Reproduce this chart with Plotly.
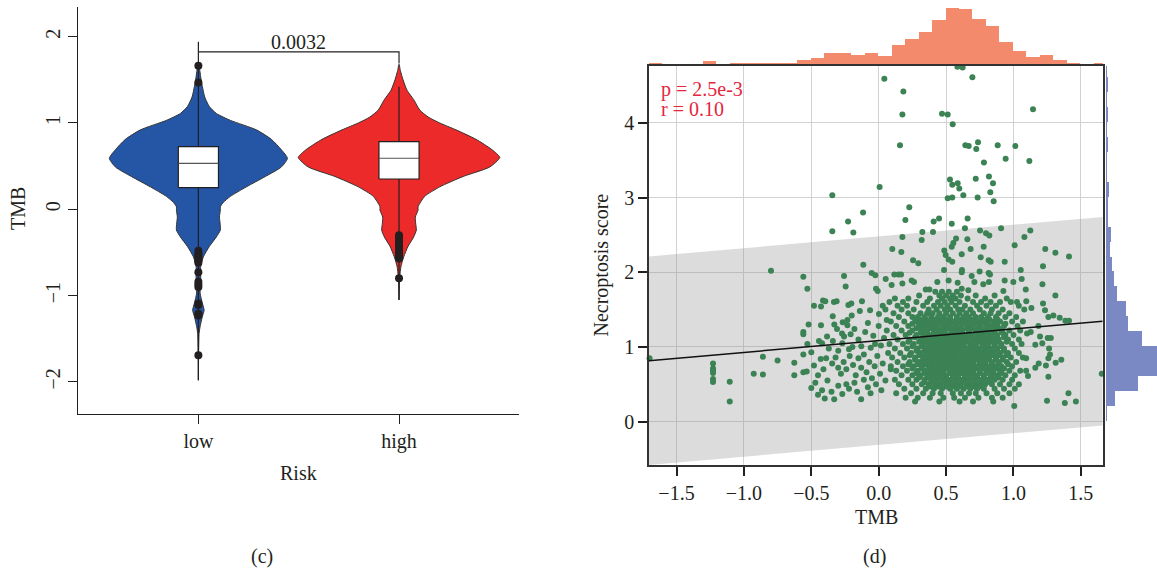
import plotly.graph_objects as go

W, H = 1157, 575
FONT = "Liberation Serif"
INK = "#231F20"

# ------------------------------------------------------------------ panel (c) data
risk_groups = ["low", "high"]
risk_pos = [1, 2]
violin_colors = ["#2456A5", "#EC2A2A"]

# violin outline: TMB level and relative density (half width, 1 = widest)
low_profile_y = [1.69, 1.60, 1.50, 1.42, 1.30, 1.19, 1.11, 1.03, 0.92, 0.81, 0.69, 0.59, 0.49, 0.38,
                 0.26, 0.15, 0.08, 0.03, -0.01, -0.09, -0.16, -0.24, -0.32, -0.43, -0.55, -0.66,
                 -0.82, -0.97, -1.09, -1.17, -1.24, -1.36, -1.44, -1.63, -1.98]
low_profile_w = [0.0, 0.015, 0.027, 0.040, 0.063, 0.109, 0.179, 0.318, 0.576, 0.725, 0.824, 0.884,
                 0.824, 0.665, 0.477, 0.318, 0.248, 0.218, 0.218, 0.209, 0.215, 0.218, 0.179, 0.109,
                 0.050, 0.023, 0.023, 0.017, 0.040, 0.057, 0.040, 0.017, 0.007, 0.003, 0.0]
high_profile_y = [1.68, 1.60, 1.50, 1.38, 1.27, 1.15, 1.07, 1.00, 0.92, 0.81, 0.69, 0.60, 0.49, 0.38,
                  0.26, 0.15, 0.03, -0.01, -0.09, -0.16, -0.24, -0.32, -0.43, -0.55, -0.66, -0.78,
                  -0.90, -1.05]
high_profile_w = [0.0, 0.015, 0.040, 0.079, 0.146, 0.206, 0.288, 0.404, 0.566, 0.765, 0.924, 1.0,
                  0.901, 0.636, 0.404, 0.255, 0.189, 0.189, 0.162, 0.165, 0.172, 0.146, 0.089,
                  0.047, 0.020, 0.007, 0.003, 0.0]

box_q1 = [0.250, 0.351]
box_median = [0.533, 0.591]
box_q3 = [0.725, 0.783]
whisker_lo = [-1.98, -1.05]
whisker_hi = [1.94, 1.42]

low_outliers = [1.664, 1.47, -0.48, -0.51, -0.53, -0.55, -0.57, -0.60, -0.62, -0.73, -0.84,
                -0.87, -0.90, -1.09, -1.11, -1.21, -1.23, -1.69]
high_outliers = [-0.30, -0.33, -0.36, -0.39, -0.42, -0.45, -0.48, -0.51, -0.54, -0.57, -0.80]

p_value_text = "0.0032"
bracket_y = 1.823
bracket_right_end = 1.69

# ------------------------------------------------------------------ panel (d) data
pts_top = [
    (0.584, 4.75), (0.623, 4.74), (0.695, 4.61), (0.042, 4.59), (0.183, 4.42), (0.176, 4.11), (0.470, 4.12),
    (0.512, 4.11), (0.549, 3.98), (1.145, 4.18), (0.158, 3.70), (0.643, 3.70), (0.668, 3.69), (0.737, 3.74),
    (0.724, 3.65), (0.883, 3.70), (1.014, 3.69), (0.781, 3.47), (0.942, 3.52), (1.118, 3.49), (0.529, 3.24),
    (0.546, 3.17), (0.586, 3.19), (0.598, 3.12), (0.720, 3.25), (0.818, 3.28), (0.848, 3.19), (0.828, 3.07),
    (0.853, 2.95), (0.628, 3.03), (0.512, 2.99), (0.546, 3.00), (0.734, 3.00), (0.007, 3.14), (-0.344, 3.03),
    (0.227, 2.87), (-0.116, 2.80), (-0.227, 2.68), (-0.344, 2.55), (-0.188, 2.53), (0.198, 2.70), (0.408, 2.68),
    (0.448, 2.72), (0.542, 2.65), (0.660, 2.72), (0.640, 2.59), (0.324, 2.54), (0.403, 2.54), (0.752, 2.56),
    (0.796, 2.52), (0.821, 2.49), (0.908, 2.59), (1.125, 2.56), (0.176, 2.47), (0.574, 2.45), (0.658, 2.44),
    (0.319, 2.43), (1.081, 2.47),
]
pts_mid = [
    (1.009, 2.36), (0.554, 2.39), (0.542, 2.34), (1.236, 2.31), (0.101, 2.31), (0.487, 2.29), (0.616, 2.24),
    (0.682, 2.31), (0.779, 2.34), (1.311, 2.26), (1.412, 2.21), (0.168, 2.27), (0.255, 2.16), (0.294, 2.12),
    (0.497, 2.23), (0.519, 2.17), (0.546, 2.14), (0.757, 2.20), (0.816, 2.16), (0.831, 2.14), (0.935, 2.14),
    (1.219, 2.08), (-0.114, 2.10), (1.054, 2.03), (0.618, 2.03), (0.616, 2.00), (0.485, 2.03), (0.690, 1.95),
    (0.749, 2.01), (0.816, 1.99), (0.826, 1.97), (-0.799, 2.02), (-0.559, 1.94), (-0.529, 1.78), (-0.257, 1.95),
    (-0.245, 1.81), (-0.052, 1.99), (-0.025, 1.96), (0.052, 1.91), (-0.007, 1.75), (-0.020, 1.78), (0.096, 1.83),
    (0.116, 1.97), (0.146, 1.97), (0.166, 1.97), (0.176, 1.85), (0.245, 1.89), (0.262, 1.87), (0.349, 1.77),
    (0.376, 1.77), (0.435, 1.87), (0.519, 1.89), (0.586, 1.86), (0.616, 1.78), (0.665, 1.76), (0.710, 1.87),
    (0.776, 1.84), (0.818, 1.87), (0.935, 1.89), (0.999, 1.87), (1.061, 1.91), (0.925, 1.75), (1.091, 1.77),
    (1.215, 1.84),
]
pts_right = [
    (1.311, 1.69), (1.026, 1.60), (1.095, 1.61), (1.133, 1.52), (1.219, 1.58), (1.234, 1.49), (1.259, 1.40),
    (1.296, 1.42), (1.343, 1.39), (1.385, 1.35), (1.412, 1.35), (1.185, 1.28), (1.128, 1.20), (1.197, 1.14),
    (1.254, 1.12), (1.277, 1.12), (1.101, 1.18), (1.162, 1.03), (1.214, 1.05), (1.264, 0.98), (1.271, 0.90),
    (1.094, 0.85), (1.187, 0.78), (1.241, 0.75), (1.259, 0.85), (1.355, 0.83), (1.313, 0.79), (1.094, 0.68),
    (1.108, 0.61), (1.259, 0.60), (1.162, 0.72), (1.408, 0.38), (1.381, 0.25), (1.463, 0.27), (1.249, 0.28),
    (1.006, 0.21), (1.655, 0.64),
]
pts_far_left = [
    (-1.700, 0.85), (-1.229, 0.78), (-1.229, 0.71), (-1.229, 0.68), (-1.229, 0.65), (-1.229, 0.57),
    (-1.229, 0.53), (-1.105, 0.535), (-1.105, 0.27), (-0.927, 0.64), (-0.859, 0.63), (-0.859, 0.87),
    (-0.750, 0.82), (-0.626, 0.79), (-0.626, 0.62),
]
pts_left_mid = [
    (-0.559, 0.90), (-0.529, 1.04), (-0.500, 0.93), (-0.559, 1.20), (-0.559, 1.17), (-0.428, 1.29), (-0.428, 1.54),
    (-0.413, 1.62), (-0.396, 1.61), (-0.341, 1.41), (-0.329, 1.30), (-0.309, 1.24), (-0.267, 1.33), (-0.232, 1.36),
    (-0.232, 1.29), (-0.332, 1.60), (-0.312, 1.61), (-0.225, 1.56), (-0.203, 1.58), (-0.124, 1.61), (-0.064, 1.49),
    (0.002, 1.44), (-0.257, 1.14), (-0.208, 1.17), (-0.272, 1.18), (-0.443, 1.08), (-0.420, 1.05), (-0.383, 1.14),
    (-0.220, 0.97), (-0.195, 1.00), (-0.129, 1.01), (-0.059, 0.99), (-0.027, 1.04), (0.017, 1.02),
    (-0.559, 0.66), (-0.534, 0.67), (-0.430, 0.84), (-0.390, 0.85), (-0.345, 0.78), (-0.320, 0.86), (-0.300, 0.72),
    (-0.280, 0.64), (-0.260, 0.80), (-0.240, 0.70), (-0.215, 0.88), (-0.190, 0.76), (-0.170, 0.62), (-0.150, 0.85),
    (-0.130, 0.72), (-0.110, 0.90), (-0.090, 0.66), (-0.070, 0.80), (-0.050, 0.58), (-0.030, 0.74), (-0.010, 0.88),
    (0.010, 0.64), (0.030, 0.78), (0.050, 0.55), (0.070, 0.92), (0.090, 0.70),
    (-0.500, 0.45), (-0.470, 0.52), (-0.450, 0.36), (-0.420, 0.42), (-0.400, 0.31), (-0.380, 0.55), (-0.350, 0.40),
    (-0.330, 0.30), (-0.300, 0.48), (-0.270, 0.37), (-0.240, 0.50), (-0.220, 0.44), (-0.180, 0.52), (-0.160, 0.40),
    (-0.130, 0.30), (-0.110, 0.56), (-0.080, 0.46), (-0.060, 0.38), (-0.020, 0.50), (0.020, 0.42),
    (-0.480, 0.75), (-0.450, 0.62), (-0.410, 0.70), (-0.370, 0.98), (-0.340, 1.08), (-0.300, 0.95), (-0.270, 1.05),
    (-0.180, 1.24), (-0.150, 1.10), (-0.100, 1.20), (-0.080, 1.32), (-0.040, 1.15), (0.000, 1.28), (0.040, 1.12),
    (-0.200, 1.42), (-0.140, 1.48), (-0.520, 1.30), (-0.480, 1.55), (0.060, 1.36), (0.030, 1.55),
]
# dense core: Necroptosis score level -> TMB values read along that level
core_rows = [
    (1.74, [0.42, 0.47, 0.52, 0.58]),
    (1.69, [0.30, 0.45, 0.50, 0.55, 0.61, 0.72, 0.86]),
    (1.65, [0.12, 0.22, 0.38, 0.47, 0.53, 0.57, 0.66, 0.79, 0.95]),
    (1.60, [0.08, 0.18, 0.28, 0.36, 0.44, 0.49, 0.54, 0.60, 0.70, 0.76, 0.83, 0.90, 0.98]),
    (1.55, [0.14, 0.21, 0.33, 0.41, 0.46, 0.51, 0.57, 0.64, 0.73, 0.80, 0.87, 1.04]),
    (1.50, [0.05, 0.17, 0.26, 0.37, 0.43, 0.49, 0.53, 0.59, 0.62, 0.68, 0.75, 0.84, 0.92, 1.08]),
    (1.45, [0.11, 0.22, 0.31, 0.36, 0.40, 0.45, 0.50, 0.55, 0.60, 0.65, 0.70, 0.78, 0.83, 0.89, 0.97]),
    (1.40, [0.15, 0.25, 0.29, 0.34, 0.39, 0.44, 0.48, 0.53, 0.58, 0.63, 0.67, 0.72, 0.76, 0.81, 0.87, 0.94, 1.02]),
    (1.37, [0.30, 0.35, 0.40, 0.44, 0.49, 0.53, 0.58, 0.62, 0.67, 0.71, 0.77, 0.82, 0.88]),
    (1.34, [0.09, 0.19, 0.27, 0.32, 0.37, 0.41, 0.46, 0.51, 0.55, 0.60, 0.64, 0.69, 0.74, 0.79, 0.85, 0.90, 0.99, 1.07]),
    (1.31, [0.25, 0.30, 0.34, 0.39, 0.44, 0.48, 0.53, 0.57, 0.62, 0.67, 0.71, 0.76, 0.81, 0.87, 0.94]),
    (1.28, [0.13, 0.22, 0.30, 0.35, 0.39, 0.43, 0.48, 0.52, 0.57, 0.61, 0.66, 0.70, 0.75, 0.80, 0.84, 0.88, 0.93, 1.03]),
    (1.25, [0.28, 0.33, 0.38, 0.43, 0.47, 0.52, 0.56, 0.60, 0.65, 0.69, 0.74, 0.79, 0.84, 0.89]),
    (1.22, [0.06, 0.17, 0.25, 0.32, 0.36, 0.41, 0.45, 0.49, 0.54, 0.58, 0.62, 0.67, 0.72, 0.77, 0.82, 0.86, 0.91, 0.97, 1.05]),
    (1.19, [0.23, 0.31, 0.36, 0.41, 0.45, 0.49, 0.54, 0.58, 0.62, 0.67, 0.72, 0.76, 0.81, 0.86, 0.92]),
    (1.16, [0.11, 0.20, 0.28, 0.34, 0.38, 0.43, 0.47, 0.51, 0.56, 0.60, 0.64, 0.69, 0.74, 0.78, 0.83, 0.88, 0.94, 1.00]),
    (1.13, [0.27, 0.33, 0.38, 0.42, 0.47, 0.51, 0.55, 0.60, 0.64, 0.68, 0.73, 0.78, 0.82, 0.87, 0.93]),
    (1.10, [0.14, 0.23, 0.31, 0.36, 0.40, 0.44, 0.49, 0.53, 0.57, 0.62, 0.66, 0.71, 0.75, 0.80, 0.85, 0.89, 0.96, 1.04]),
    (1.07, [0.22, 0.30, 0.35, 0.40, 0.44, 0.48, 0.53, 0.57, 0.61, 0.66, 0.70, 0.75, 0.79, 0.84, 0.89, 0.95]),
    (1.04, [0.08, 0.18, 0.26, 0.33, 0.38, 0.42, 0.46, 0.51, 0.55, 0.59, 0.63, 0.68, 0.72, 0.77, 0.81, 0.86, 0.91, 0.99, 1.06]),
    (1.01, [0.25, 0.32, 0.37, 0.41, 0.46, 0.50, 0.55, 0.59, 0.63, 0.68, 0.72, 0.77, 0.81, 0.86, 0.91]),
    (0.98, [0.12, 0.21, 0.29, 0.35, 0.39, 0.44, 0.48, 0.52, 0.57, 0.61, 0.65, 0.70, 0.74, 0.79, 0.83, 0.88, 0.93, 1.01]),
    (0.95, [0.28, 0.34, 0.38, 0.43, 0.47, 0.52, 0.56, 0.61, 0.65, 0.69, 0.73, 0.78, 0.83, 0.87, 0.93]),
    (0.92, [0.16, 0.24, 0.31, 0.36, 0.41, 0.45, 0.50, 0.54, 0.58, 0.63, 0.67, 0.71, 0.76, 0.80, 0.85, 0.90, 0.96, 1.04]),
    (0.89, [0.23, 0.30, 0.35, 0.40, 0.44, 0.49, 0.53, 0.58, 0.62, 0.66, 0.71, 0.75, 0.80, 0.84, 0.89, 0.95]),
    (0.86, [0.10, 0.19, 0.27, 0.33, 0.38, 0.42, 0.47, 0.51, 0.56, 0.60, 0.64, 0.69, 0.73, 0.78, 0.82, 0.87, 0.92, 0.98, 1.07]),
    (0.83, [0.27, 0.33, 0.37, 0.42, 0.46, 0.51, 0.55, 0.60, 0.64, 0.68, 0.73, 0.77, 0.82, 0.87, 0.92]),
    (0.80, [0.14, 0.23, 0.30, 0.35, 0.40, 0.44, 0.49, 0.53, 0.57, 0.62, 0.66, 0.70, 0.75, 0.79, 0.84, 0.89, 0.95, 1.02]),
    (0.77, [0.22, 0.29, 0.34, 0.39, 0.44, 0.48, 0.53, 0.57, 0.61, 0.66, 0.70, 0.75, 0.79, 0.84, 0.89, 0.96]),
    (0.74, [0.09, 0.18, 0.26, 0.32, 0.37, 0.42, 0.46, 0.50, 0.55, 0.59, 0.63, 0.68, 0.72, 0.77, 0.81, 0.86, 0.91, 0.99]),
    (0.71, [0.25, 0.32, 0.37, 0.41, 0.46, 0.51, 0.55, 0.59, 0.64, 0.68, 0.73, 0.77, 0.82, 0.87, 0.93]),
    (0.68, [0.13, 0.21, 0.29, 0.35, 0.39, 0.44, 0.48, 0.53, 0.57, 0.61, 0.66, 0.70, 0.75, 0.80, 0.84, 0.90, 0.97, 1.05]),
    (0.65, [0.28, 0.34, 0.39, 0.43, 0.48, 0.53, 0.57, 0.62, 0.66, 0.70, 0.75, 0.80, 0.85, 0.91]),
    (0.62, [0.17, 0.25, 0.31, 0.37, 0.41, 0.46, 0.50, 0.55, 0.59, 0.64, 0.68, 0.73, 0.78, 0.83, 0.88, 0.94, 1.01]),
    (0.59, [0.30, 0.36, 0.41, 0.45, 0.50, 0.55, 0.59, 0.64, 0.69, 0.73, 0.78, 0.84, 0.89]),
    (0.56, [0.12, 0.22, 0.28, 0.34, 0.39, 0.43, 0.48, 0.52, 0.57, 0.62, 0.66, 0.71, 0.76, 0.81, 0.86, 0.92, 0.99]),
    (0.53, [0.34, 0.39, 0.44, 0.49, 0.53, 0.58, 0.62, 0.67, 0.72, 0.77, 0.82]),
    (0.50, [0.15, 0.25, 0.32, 0.37, 0.42, 0.46, 0.51, 0.55, 0.60, 0.65, 0.69, 0.74, 0.79, 0.84, 0.90, 0.97, 1.04]),
    (0.47, [0.38, 0.44, 0.50, 0.56, 0.61, 0.66, 0.71, 0.76]),
    (0.44, [0.19, 0.28, 0.35, 0.41, 0.47, 0.53, 0.58, 0.63, 0.68, 0.73, 0.78, 0.86, 0.93, 1.01]),
    (0.38, [0.13, 0.24, 0.33, 0.40, 0.46, 0.55, 0.61, 0.67, 0.72, 0.80, 0.88, 0.97]),
    (0.32, [0.20, 0.29, 0.38, 0.48, 0.56, 0.64, 0.74, 0.84, 0.92]),
    (0.27, [0.27, 0.45, 0.60, 0.70, 0.85]),
]

# linear fit
fit_intercept = 1.084
fit_slope = 0.157
band_halfwidth = 1.395
stat_p = "p = 2.5e-3"
stat_r = "r = 0.10"

# marginal histograms (counts)
tmb_bin_start = -1.704
tmb_bin_width = 0.1
tmb_counts = [1, 0, 0, 0, 4, 0, 2, 1, 2, 2, 2, 5, 7, 12, 12, 10, 12, 9, 20, 26, 33, 45, 57, 56, 46,
              39, 23, 14, 8, 10, 5, 2, 0, 1]
nec_bin_start = 0.01
nec_bin_width = 0.2
nec_counts = [1, 9, 32, 58, 55, 36, 22, 20, 11, 8, 6, 4, 5, 2, 2, 3, 1, 1, 2, 1, 2, 0.7, 2, 1]

x_ticks_d = [-1.5, -1.0, -0.5, 0.0, 0.5, 1.0, 1.5]
y_ticks_d = [0, 1, 2, 3, 4]
y_ticks_c = [-2, -1, 0, 1, 2]


def lab(v, fmt):
    return fmt.format(v).replace("-", "\u2212")


def px(xp):
    return xp / W


def py(yp):
    return 1 - yp / H


fig = go.Figure()

# ---------------- panel (c)
VMAX = 0.502
BOX_HALF = 0.1
for pos, ys, ws, col in [(1, low_profile_y, low_profile_w, violin_colors[0]),
                         (2, high_profile_y, high_profile_w, violin_colors[1])]:
    xs = [pos + w * VMAX for w in ws] + [pos - w * VMAX for w in reversed(ws)]
    yy = list(ys) + list(reversed(ys))
    fig.add_trace(go.Scatter(x=xs, y=yy, mode="lines", fill="toself", fillcolor=col,
                             line=dict(color="#333333", width=1, shape="spline", smoothing=0.6),
                             xaxis="x", yaxis="y", hoverinfo="skip"))

for i, pos in enumerate(risk_pos):
    # whiskers
    fig.add_trace(go.Scatter(x=[pos, pos, None, pos, pos],
                             y=[whisker_lo[i], box_q1[i], None, box_q3[i], whisker_hi[i]],
                             mode="lines", line=dict(color=INK, width=1.2), xaxis="x", yaxis="y"))
    # box
    l, r = pos - BOX_HALF, pos + BOX_HALF
    fig.add_trace(go.Scatter(x=[l, r, r, l, l], y=[box_q1[i], box_q1[i], box_q3[i], box_q3[i], box_q1[i]],
                             mode="lines", fill="toself", fillcolor="white",
                             line=dict(color=INK, width=1.2), xaxis="x", yaxis="y"))
    fig.add_trace(go.Scatter(x=[l, r], y=[box_median[i], box_median[i]], mode="lines",
                             line=dict(color="#555555", width=1.2), xaxis="x", yaxis="y"))

fig.add_trace(go.Scatter(x=[1] * len(low_outliers) + [2] * len(high_outliers),
                         y=low_outliers + high_outliers, mode="markers",
                         marker=dict(color=INK, size=8), xaxis="x", yaxis="y"))

fig.add_trace(go.Scatter(x=[1, 2, 2], y=[bracket_y, bracket_y, bracket_right_end], mode="lines",
                         line=dict(color=INK, width=1.2), xaxis="x", yaxis="y"))

# ---------------- panel (d)
x_lo, x_hi = -1.704, 1.662
fit_lo = fit_intercept + fit_slope * x_lo
fit_hi = fit_intercept + fit_slope * x_hi
bx = [x_lo, x_hi, x_hi, x_lo, x_lo]
by = [fit_lo + band_halfwidth, fit_hi + band_halfwidth, fit_hi - band_halfwidth,
      fit_lo - band_halfwidth, fit_lo + band_halfwidth]
fig.add_trace(go.Scatter(x=bx, y=by, mode="lines", fill="toself",
                         fillcolor="rgba(150,145,150,0.32)", line=dict(width=0),
                         xaxis="x2", yaxis="y2", hoverinfo="skip"))

all_pts = pts_top + pts_mid + pts_right + pts_far_left + pts_left_mid
for yv, xs in core_rows:
    all_pts += [(xv, yv) for xv in xs]
tmb = [p[0] for p in all_pts]
nec = [p[1] for p in all_pts]
fig.add_trace(go.Scatter(x=tmb, y=nec, mode="markers", cliponaxis=False,
                         marker=dict(color="#3B8254", size=6, line=dict(width=0)),
                         xaxis="x2", yaxis="y2"))

fig.add_trace(go.Scatter(x=[x_lo, x_hi], y=[fit_lo, fit_hi], mode="lines",
                         line=dict(color="#111111", width=1.5), xaxis="x2", yaxis="y2"))

tmb_centers = [tmb_bin_start + tmb_bin_width * (k + 0.5) for k in range(len(tmb_counts))]
fig.add_trace(go.Bar(x=tmb_centers, y=tmb_counts, width=tmb_bin_width,
                     marker=dict(color="#F48A6C", line=dict(width=0)), xaxis="x3", yaxis="y3"))
nec_centers = [nec_bin_start + nec_bin_width * (k + 0.5) for k in range(len(nec_counts))]
fig.add_trace(go.Bar(y=nec_centers, x=nec_counts, width=nec_bin_width, orientation="h",
                     marker=dict(color="#7A89C4", line=dict(width=0)), xaxis="x4", yaxis="y4"))

tickfont = dict(family=FONT, size=20, color=INK)
fig.update_layout(
    width=W, height=H, margin=dict(l=0, r=0, t=0, b=0),
    paper_bgcolor="white", plot_bgcolor="white", showlegend=False, bargap=0,
    font=dict(family=FONT, size=20, color=INK),
    xaxis=dict(domain=[px(78), px(519.4)], range=[0.4, 2.6], anchor="y",
               tickvals=risk_pos, ticktext=risk_groups, showline=True, linecolor=INK, linewidth=1.2,
               ticks="outside", ticklen=9, tickwidth=1.2, tickcolor=INK, showgrid=False,
               zeroline=False, tickfont=tickfont),
    yaxis=dict(domain=[py(414.3), py(7.3)], range=[-2.375, 2.34], anchor="x",
               tickvals=y_ticks_c, ticktext=[lab(v, "{:d}") for v in y_ticks_c], tickangle=-90,
               showline=True, linecolor=INK, linewidth=1.2, ticks="outside", ticklen=9,
               tickwidth=1.2, tickcolor=INK, showgrid=False, zeroline=False, tickfont=tickfont),
    xaxis2=dict(domain=[px(649), px(1102.7)], range=[x_lo, x_hi], anchor="y2",
                tickvals=x_ticks_d, ticktext=[lab(v, "{:.1f}") for v in x_ticks_d],
                showline=True, mirror=True, linecolor="#333333", linewidth=1.5,
                ticks="outside", ticklen=9, tickwidth=1.5, tickcolor=INK,
                showgrid=True, gridcolor="#D2D2D2", gridwidth=1.2, zeroline=False, tickfont=tickfont),
    yaxis2=dict(domain=[py(465), py(66)], range=[-0.58, 4.76], anchor="x2",
                tickvals=y_ticks_d, ticktext=[str(v) for v in y_ticks_d],
                showline=True, mirror=True, linecolor="#333333", linewidth=1.5,
                ticks="outside", ticklen=9, tickwidth=1.8, tickcolor=INK,
                showgrid=True, gridcolor="#D2D2D2", gridwidth=1.2, zeroline=False, tickfont=tickfont),
    xaxis3=dict(domain=[px(649), px(1102.7)], range=[x_lo, x_hi], anchor="y3", visible=False),
    yaxis3=dict(domain=[py(64), py(6.5)], range=[0, 57.5], anchor="x3", visible=False),
    xaxis4=dict(domain=[px(1106), 1.0], range=[0, 51], anchor="y4", visible=False),
    yaxis4=dict(domain=[py(465), py(66)], range=[-0.58, 4.76], anchor="x4", visible=False),
)

ann = [
    dict(x=1.5, y=1.94, xref="x", yref="y", text=p_value_text, showarrow=False,
         xanchor="center", yanchor="middle"),
    dict(x=px(298.7), y=py(473), xref="paper", yref="paper", text="Risk", showarrow=False,
         xanchor="center", yanchor="middle"),
    dict(x=px(18), y=py(209), xref="paper", yref="paper", text="TMB", showarrow=False,
         textangle=-90, xanchor="center", yanchor="middle"),
    dict(x=px(876), y=py(517), xref="paper", yref="paper", text="TMB", showarrow=False,
         xanchor="center", yanchor="middle"),
    dict(x=px(601), y=py(265.5), xref="paper", yref="paper", text="Necroptosis score", showarrow=False,
         textangle=-90, xanchor="center", yanchor="middle"),
    dict(x=-1.63, y=4.45, xref="x2", yref="y2", text=stat_p, showarrow=False,
         font=dict(color="#E5263D"), xanchor="left", yanchor="middle"),
    dict(x=-1.63, y=4.19, xref="x2", yref="y2", text=stat_r, showarrow=False,
         font=dict(color="#E5263D"), xanchor="left", yanchor="middle"),
    dict(x=px(262), y=py(556), xref="paper", yref="paper", text="(c)", showarrow=False,
         xanchor="center", yanchor="middle"),
    dict(x=px(874), y=py(556), xref="paper", yref="paper", text="(d)", showarrow=False,
         xanchor="center", yanchor="middle"),
]
fig.update_layout(annotations=ann)

fig.write_html("out.html", config={"displayModeBar": False},
               post_script="document.body.style.margin='0';")
